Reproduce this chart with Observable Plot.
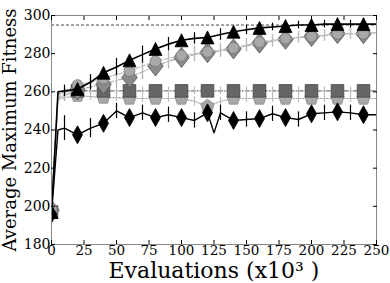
<!DOCTYPE html>
<html>
<head>
<meta charset="utf-8">
<script src="https://cdn.jsdelivr.net/npm/d3@7"></script>
<script src="https://cdn.jsdelivr.net/npm/@observablehq/plot@0.6"></script>
<style>
  html, body { margin: 0; padding: 0; background: white; }
</style>
</head>
<body>
<div id="chart"></div>
<script>
// ---- data ----
const xs = [0,5,10,20,30,40,50,60,70,80,90,100,110,120,130,140,150,160,170,180,190,200,210,220,230,240,250];
const triangleSeries = [197,260,260.5,261.5,265,270,273,276.5,279.5,282.5,285,287,288,288.5,290,291.5,292.5,293.5,294,294.5,295,295,295.5,295.5,295.5,295.5,295.5];
const circleSeries   = [198,258,259,263.5,265,267,269,271,273.5,276,277.5,279,280,281,282,283,284.5,286,287,288,288.5,289,289.5,290.5,290.5,290.5,291];
const diamondSeries  = [198,257,258,261,262.5,264,266,267.5,270.5,273.5,276,278,279.5,280.5,281.5,282.5,284,285.5,286.5,287.5,288.5,289,289.5,290.5,290.5,290.5,291];
const squareSeries   = [197,259,260,260.5,260.5,260.5,260.5,260.5,260.5,260.5,260.5,260.5,260.5,260.5,260.5,260.5,260.5,260.5,260.5,260.5,260.5,260.5,260.5,260.5,260.5,260.5,260.5];
const pentagonSeries = [197,256,257,258,257.5,257,257,256.5,256.5,256.5,256.5,256.5,255,252.5,255,256.5,256.5,256.5,256.5,256.5,256.5,256.5,256.5,256.5,256.5,256.5,256.5];
const xsBlack = [0,5,10,20,30,40,50,60,70,80,90,100,110,120,125,130,140,150,160,170,180,190,200,210,220,230,240,250];
const blackDiamondSeries = [196,240,241,237.5,241,243.5,250,246.5,249,246.5,248,246.5,245,249,238.5,249,245,245.5,246,248.5,246.5,245.5,248.5,249,249.5,249,248,248];

// error half-widths at x = 10, 30, 50, ..., 230
const errX = [10,30,50,70,90,110,130,150,170,190,210,230];
const triangleErr = [3,4,4.5,4.5,3.5,3,3,2.5,2,2,2,2];
const circleErr   = [3,4,4.5,4.5,4.5,4,3.5,3.5,3,3,3,3];
const diamondErr  = [3,3.5,4,4,4,3.5,3.5,3,3,3,3,3];
const squareErr   = [2,2,2,2,2,2,2,2,2,2,2,2];
const pentagonErr = [2,2,2,2,2,2.5,2,2,2,2,2,2];
const blackErr    = [6.5,5,4,4,4,4,4,4,4,4,4,4];

const optimum = [295];
const xTicks = [0,25,50,75,100,125,150,175,200,225,250];
const yTicks = [180,200,220,240,260,280,300];

// ---- helpers ----
const toRows = (xArr, yArr) => xArr.map((x, i) => ({x, y: yArr[i]}));
const markerRows = (xArr, yArr) => toRows(xArr, yArr).filter(d => d.x % 20 === 0);
const errRows = (xArr, yArr, errs) => errX.map((x, i) => {
  const y = yArr[xArr.indexOf(x)];
  return {x, lo: y - errs[i], hi: y + errs[i]};
});

// custom marker symbols (size = pi r^2)
const rad = s => Math.sqrt(s / Math.PI);
const triangleSym = {draw(c, s) { const r = rad(s); c.moveTo(0, -r); c.lineTo(r, r); c.lineTo(-r, r); c.closePath(); }};
const thinDiamondSym = {draw(c, s) { const r = rad(s); c.moveTo(0, -r); c.lineTo(0.56 * r, 0); c.lineTo(0, r); c.lineTo(-0.56 * r, 0); c.closePath(); }};
const diamondSym = {draw(c, s) { const r = rad(s); c.moveTo(0, -r); c.lineTo(0.78 * r, 0); c.lineTo(0, r); c.lineTo(-0.78 * r, 0); c.closePath(); }};
const squareSym = {draw(c, s) { const r = rad(s); c.rect(-r, -r, 2 * r, 2 * r); }};
const pentagonSym = {draw(c, s) { const r = rad(s);
  for (let k = 0; k < 5; k++) { const a = -Math.PI / 2 + k * 2 * Math.PI / 5; const px = r * Math.cos(a), py = r * Math.sin(a); k ? c.lineTo(px, py) : c.moveTo(px, py); }
  c.closePath(); }};

function series(xArr, yArr, errs, o) {
  return [
    Plot.line(toRows(xArr, yArr), {x: "x", y: "y", stroke: o.line, strokeWidth: o.lw, strokeDasharray: o.dash, clip: true}),
    Plot.ruleX(errRows(xArr, yArr, errs), {x: "x", y1: "lo", y2: "hi", stroke: o.err, strokeWidth: 1.2, clip: true}),
    Plot.dot(markerRows(xArr, yArr), {x: "x", y: "y", symbol: o.symbol, r: o.r, fill: o.fill, stroke: o.stroke, strokeWidth: 0.8, clip: true})
  ];
}

const chart = Plot.plot({
  width: 390,
  height: 283,
  marginLeft: 51,
  marginRight: 14,
  marginTop: 15,
  marginBottom: 39,
  style: {fontFamily: "DejaVu Serif", background: "white", color: "black"},
  x: {domain: [0, 250]},
  y: {domain: [180, 300]},
  marks: [
    Plot.ruleY(optimum, {stroke: "#333", strokeWidth: 0.9, strokeDasharray: "3,2"}),
    ...series(xs, pentagonSeries, pentagonErr, {line: "#aaa", lw: 1.2, dash: "1.5,1.5", err: "#bbb", symbol: pentagonSym, r: 7, fill: "#a8a8a8", stroke: "#888"}),
    ...series(xs, squareSeries, squareErr, {line: "#777", lw: 1.2, dash: "4,2,1,2", err: "#bbb", symbol: squareSym, r: 6.3, fill: "#666", stroke: "#444"}),
    ...series(xs, diamondSeries, diamondErr, {line: "#aaa", lw: 1.2, dash: "6,2,1,2", err: "#aaa", symbol: diamondSym, r: 10, fill: "#8a8a8a", stroke: "#555"}),
    ...series(xs, circleSeries, circleErr, {line: "#bbb", lw: 1.2, dash: "4,2", err: "#bbb", symbol: "circle", r: 5.5, fill: "#a8a8a8", stroke: "#777"}),
    ...series(xsBlack, blackDiamondSeries, blackErr, {line: "black", lw: 1.4, dash: null, err: "black", symbol: thinDiamondSym, r: 9, fill: "black", stroke: "black"}),
    ...series(xs, triangleSeries, triangleErr, {line: "black", lw: 1.6, dash: null, err: "black", symbol: triangleSym, r: 6.5, fill: "black", stroke: "black"}),
    Plot.frame({stroke: "#888"}),
    Plot.axisY({ticks: yTicks, tickSize: -4, tickPadding: 5, label: null, fontSize: 14}),
    Plot.axisY({anchor: "right", ticks: yTicks, tickSize: -4, tickFormat: () => "", label: null}),
    Plot.axisX({ticks: xTicks, tickSize: -4, tickPadding: 5, label: null, fontSize: 13.5}),
    Plot.axisX({anchor: "top", ticks: xTicks, tickSize: -4, tickFormat: () => "", label: null}),
    Plot.axisY({ticks: [], tickSize: 0, label: "Average Maximum Fitness", labelAnchor: "center", labelArrow: "none", labelOffset: 48, fontSize: 18}),
    Plot.axisX({ticks: [], tickSize: 0, label: "Evaluations (x10³ )", labelAnchor: "center", labelArrow: "none", labelOffset: 33, fontSize: 22, dx: 12})
  ]
});
document.getElementById("chart").appendChild(chart);
</script>
</body>
</html>
